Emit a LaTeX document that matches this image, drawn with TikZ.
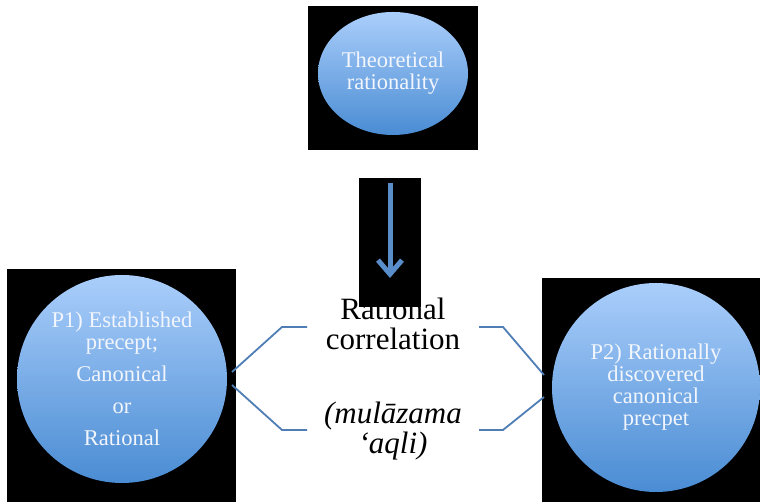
\documentclass[tikz,border=0pt]{standalone}
\usepackage{fontspec}
\setmainfont{Liberation Serif}
\usetikzlibrary{shapes.geometric,arrows.meta}
\definecolor{balltop}{RGB}{170,206,251}
\definecolor{ballbot}{RGB}{74,140,211}
\definecolor{balltext}{RGB}{242,246,252}
\definecolor{linkblue}{RGB}{79,126,182}
\definecolor{arrowblue}{RGB}{89,141,201}
\begin{document}
\begin{tikzpicture}[x=1pt,y=1pt,
    ball/.style={ellipse,inner sep=0pt,top color=balltop,bottom color=ballbot,
      text=balltext,align=center,font=\fontsize{22.5}{22}\selectfont},
    blackbox/.style={fill=black,draw=none},
    link/.style={draw=linkblue,line width=1.8pt},
    midtext/.style={align=center,font=\fontsize{31}{30}\selectfont}]
    \fill[white] (0,0) rectangle (760,502);
    \useasboundingbox (0,0) rectangle (760,502);
    \fill[blackbox] (308,352) rectangle (478,496);
    \fill[blackbox] (7,0) rectangle (236,233);
    \fill[blackbox] (542,0) rectangle (760,224);
    \node[ball,minimum width=150pt,minimum height=123pt] (theo) at (393,428.5) {Theoretical\\rationality};
    \node[ball,minimum width=210pt,minimum height=208pt] (p1) at (122,123)
        {P1) Established\\precept;\\[10pt]Canonical\\[10pt]or\\[10pt]Rational};
    \node[ball,minimum width=208pt,minimum height=209pt] (p2) at (656,114.5)
        {P2) Rationally\\discovered\\canonical\\precpet};
    \node[midtext] (corr) at (393,178) {Rational\\correlation};
    \node[midtext] (mulz) at (393,71) {\itshape(mulāzama\\\itshape‘aqli)};
    \coordinate (la) at (232,130);
    \coordinate (lb) at (232,117);
    \coordinate (ka) at (282,175);
    \coordinate (kb) at (282,72);
    \coordinate (ea) at (307,175);
    \coordinate (eb) at (307,72);
    \coordinate (fa) at (479,175);
    \coordinate (fb) at (479,72);
    \coordinate (ma) at (503,175);
    \coordinate (mb) at (503,72);
    \coordinate (ra) at (544,127);
    \coordinate (rb) at (544,105);
    \draw[link] (la) -- (ka) -- (ea);
    \draw[link] (lb) -- (kb) -- (eb);
    \draw[link] (fa) -- (ma) -- (ra);
    \draw[link] (fb) -- (mb) -- (rb);
    \fill[blackbox] (359,195) rectangle (421,324);
    \coordinate (up) at (390,319);
    \coordinate (down) at (390,224);
    \draw[arrowblue,line width=5pt,-{Straight Barb[length=14pt,width=24pt]}] (up) -- (down);
\end{tikzpicture}
\end{document}
